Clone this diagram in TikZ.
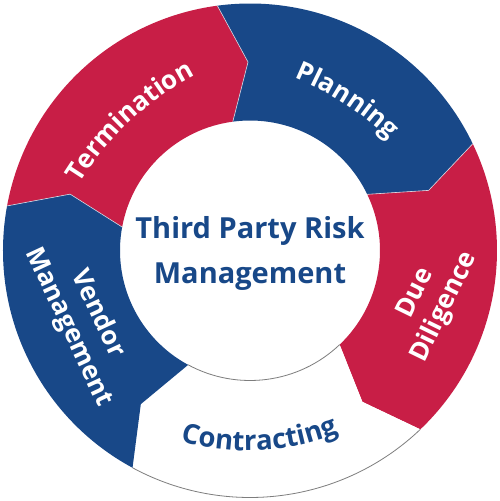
\documentclass[tikz,border=0pt]{standalone}
\usepackage{fontspec}
\setmainfont{Open Sans}
\usetikzlibrary{calc,decorations.text}
\definecolor{tpred}{RGB}{200,30,70}
\definecolor{tpblue}{RGB}{24,72,136}
\definecolor{tpgray}{RGB}{125,125,125}
\definecolor{tpsep}{RGB}{215,215,225}
\newcommand\segfont{\fontsize{26pt}{32pt}\selectfont\bfseries}
\newcommand\confont{\fontsize{27.5pt}{32pt}\selectfont\bfseries}
\newcommand\ctrfont{\fontsize{29pt}{45pt}\selectfont\bfseries}
\tikzset{
  ringedge/.style={draw=tpgray, line width=0.8pt},
  sepline/.style={draw=tpsep, line width=0.6pt},
  seglabel/.style={font=\segfont, text=white, align=center},
  ctrlabel/.style={font=\ctrfont, text=tpblue, anchor=base},
}
\begin{document}
\begin{tikzpicture}
\fill[white] (-250pt,-250.5pt) rectangle (250pt,250.5pt);
\useasboundingbox (-250pt,-250.5pt) rectangle (250pt,250.5pt);
% Termination
\fill[tpred] (169.6:130pt) -- (162.6:188.5pt) -- (169.6:247pt)
  arc[start angle=169.6, end angle=97.6, radius=247pt]
  -- (90.6:188.5pt) -- (97.6:130pt)
  arc[start angle=97.6, end angle=169.6, radius=130pt] -- cycle;
% Planning
\fill[tpblue] (97.6:130pt) -- (90.6:188.5pt) -- (97.6:247pt)
  arc[start angle=97.6, end angle=25.6, radius=247pt]
  -- (18.6:188.5pt) -- (25.6:130pt)
  arc[start angle=25.6, end angle=97.6, radius=130pt] -- cycle;
% Due Diligence
\fill[tpred] (25.6:130pt) -- (18.6:188.5pt) -- (25.6:247pt)
  arc[start angle=25.6, end angle=-46.4, radius=247pt]
  -- (-53.4:188.5pt) -- (-46.4:130pt)
  arc[start angle=-46.4, end angle=25.6, radius=130pt] -- cycle;
% Contracting
\fill[white] (-46.4:130pt) -- (-53.4:188.5pt) -- (-46.4:247pt)
  arc[start angle=-46.4, end angle=-118.4, radius=247pt]
  -- (-125.4:188.5pt) -- (-118.4:130pt)
  arc[start angle=-118.4, end angle=-46.4, radius=130pt] -- cycle;
\draw[ringedge] (-46.4:247pt) arc[start angle=-46.4, end angle=-118.4, radius=247pt];
\draw[ringedge] (-46.4:130pt) arc[start angle=-46.4, end angle=-118.4, radius=130pt];
% Vendor Management
\fill[tpblue] (-118.4:130pt) -- (-125.4:188.5pt) -- (-118.4:247pt)
  arc[start angle=-118.4, end angle=-190.4, radius=247pt]
  -- (-197.4:188.5pt) -- (-190.4:130pt)
  arc[start angle=-190.4, end angle=-118.4, radius=130pt] -- cycle;
% separators
\draw[sepline] (169.6:130pt) -- (162.6:188.5pt) -- (169.6:247pt);
\draw[sepline] (97.6:130pt) -- (90.6:188.5pt) -- (97.6:247pt);
\draw[sepline] (25.6:130pt) -- (18.6:188.5pt) -- (25.6:247pt);
% labels along arcs
\path[decorate, decoration={text along path, text align=center, text color=white,
  text={|\segfont|Termination}}]
  ($(313:124pt)+(158:300pt)$) arc[start angle=158, end angle=108, radius=300pt];
\path[decorate, decoration={text along path, text align=center, text color=white,
  text={|\segfont|Planning}}]
  ($(237:125.5pt)+(82:300pt)$) arc[start angle=82, end angle=32, radius=300pt];
\path[decorate, decoration={text along path, text align=center, text color=tpblue,
  text={|\confont|Contracting}}]
  ($(93:40pt)+(-117:240pt)$) arc[start angle=-117, end angle=-57, radius=240pt];
% rotated two-line labels
\node[seglabel, rotate=64] (dd) at (180.7pt,-50pt) {Due\\Diligence};
\node[seglabel, rotate=-65] (vm) at (-167pt,-70pt) {Vendor\\Management};
% centre
\node[ctrlabel] (c1) at (0pt,12.5pt) {Third Party Risk};
\node[ctrlabel] (c2) at (0pt,-32.5pt) {Management};
\end{tikzpicture}
\end{document}
